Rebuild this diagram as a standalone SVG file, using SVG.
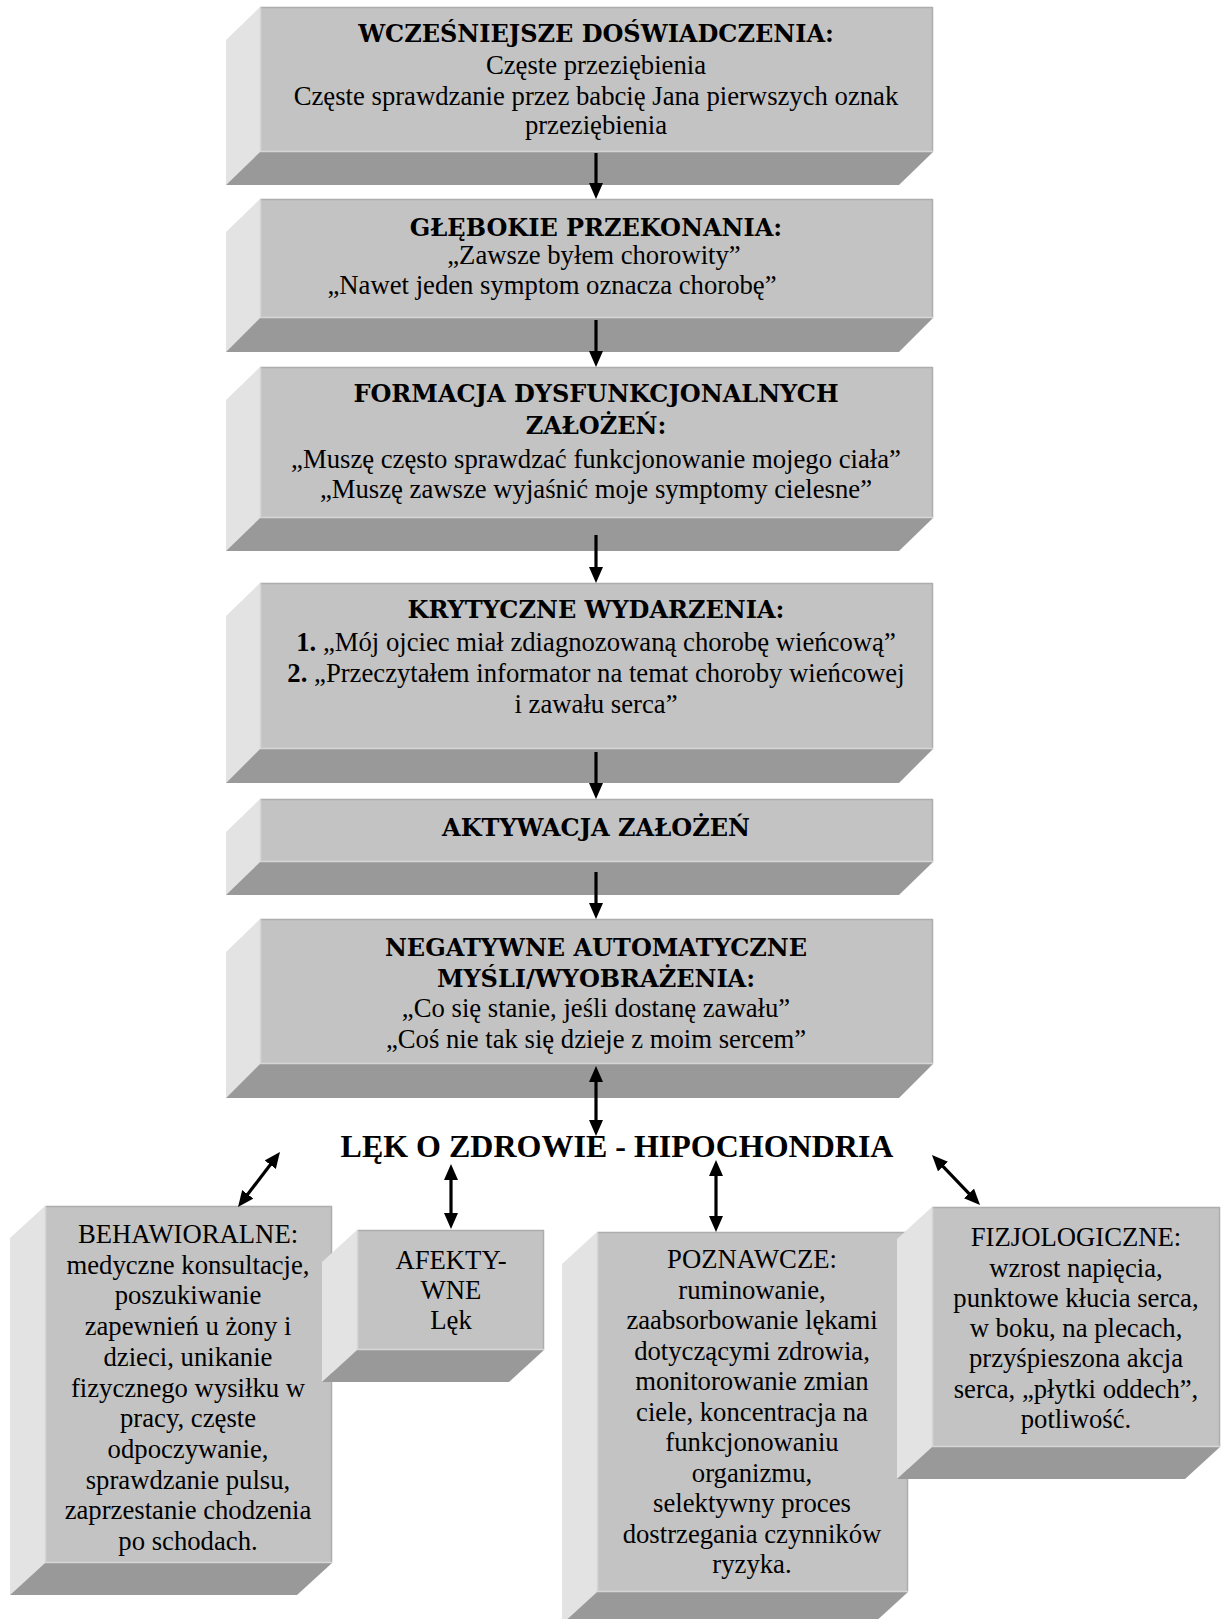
<svg xmlns="http://www.w3.org/2000/svg" width="1226" height="1619" viewBox="0 0 1226 1619">
<defs>
<style>
.front{fill:#c3c3c3}
.side{fill:#e3e3e3}
.bottom{fill:#999999}
.edge{stroke:#adadad;stroke-width:1.5;fill:none}
.hl{stroke:#d6d6d6;stroke-width:1.5;fill:none}
.ttl{font-family:"DejaVu Serif","Liberation Serif",serif;font-weight:bold;font-size:24px;fill:#000;text-anchor:middle}
.txt{font-family:"Liberation Serif","Times New Roman",serif;font-size:26.7px;fill:#000;text-anchor:middle}
.big{font-family:"Liberation Serif","Times New Roman",serif;font-weight:bold;font-size:32px;fill:#000;text-anchor:middle}
.arr{stroke:#000;stroke-width:3.2;fill:none}
</style>
<marker id="ah" markerUnits="userSpaceOnUse" markerWidth="16" markerHeight="14" refX="6" refY="7" orient="auto-start-reverse" viewBox="0 0 16 14">
<path d="M0,0 L16,7 L0,14 Z" fill="#000"/>
</marker>
</defs>
<rect width="1226" height="1619" fill="#fff"/>

<g id="box1">
<polygon class="side" points="260,7 226,40 226,185 260,152"/>
<polygon class="bottom" points="260,152 933,152 899,185 226,185"/>
<rect class="front" x="260" y="7" width="673" height="145"/>
<path class="edge" d="M260,7.5 H933 M932.5,7 V152"/>
<path class="hl" d="M260.5,7 V152 M260,151.5 H933"/>
<text class="ttl" x="596" y="42">WCZEŚNIEJSZE DOŚWIADCZENIA:</text>
<text class="txt" x="596" y="74">Częste przeziębienia</text>
<text class="txt" x="596" y="105">Częste sprawdzanie przez babcię Jana pierwszych oznak</text>
<text class="txt" x="596" y="134">przeziębienia</text>
</g>

<g id="box2">
<polygon class="side" points="260,199 226,232 226,352 260,318"/>
<polygon class="bottom" points="260,318 933,318 899,352 226,352"/>
<rect class="front" x="260" y="199" width="673" height="119"/>
<path class="edge" d="M260,199.5 H933 M932.5,199 V318"/>
<path class="hl" d="M260.5,199 V318 M260,317.5 H933"/>
<text class="ttl" x="596" y="236">GŁĘBOKIE PRZEKONANIA:</text>
<text class="txt" x="594" y="264">„Zawsze byłem chorowity”</text>
<text class="txt" x="552" y="294">„Nawet jeden symptom oznacza chorobę”</text>
</g>

<g id="box3">
<polygon class="side" points="260,367 226,400 226,551 260,518"/>
<polygon class="bottom" points="260,518 933,518 899,551 226,551"/>
<rect class="front" x="260" y="367" width="673" height="151"/>
<path class="edge" d="M260,367.5 H933 M932.5,367 V518"/>
<path class="hl" d="M260.5,367 V518 M260,517.5 H933"/>
<text class="ttl" x="596" y="402">FORMACJA DYSFUNKCJONALNYCH</text>
<text class="ttl" x="596" y="434">ZAŁOŻEŃ:</text>
<text class="txt" x="596" y="468">„Muszę często sprawdzać funkcjonowanie mojego ciała”</text>
<text class="txt" x="596" y="498">„Muszę zawsze wyjaśnić moje symptomy cielesne”</text>
</g>

<g id="box4">
<polygon class="side" points="260,583 226,616 226,783 260,749"/>
<polygon class="bottom" points="260,749 933,749 899,783 226,783"/>
<rect class="front" x="260" y="583" width="673" height="166"/>
<path class="edge" d="M260,583.5 H933 M932.5,583 V749"/>
<path class="hl" d="M260.5,583 V749 M260,748.5 H933"/>
<text class="ttl" x="596" y="618">KRYTYCZNE WYDARZENIA:</text>
<text class="txt" x="596" y="651"><tspan font-weight="bold">1.</tspan> „Mój ojciec miał zdiagnozowaną chorobę wieńcową”</text>
<text class="txt" x="596" y="682"><tspan font-weight="bold">2.</tspan> „Przeczytałem informator na temat choroby wieńcowej</text>
<text class="txt" x="596" y="713">i zawału serca”</text>
</g>

<g id="box5">
<polygon class="side" points="260,799 226,832 226,895 260,862"/>
<polygon class="bottom" points="260,862 933,862 899,895 226,895"/>
<rect class="front" x="260" y="799" width="673" height="63"/>
<path class="edge" d="M260,799.5 H933 M932.5,799 V862"/>
<path class="hl" d="M260.5,799 V862 M260,861.5 H933"/>
<text class="ttl" x="596" y="836">AKTYWACJA ZAŁOŻEŃ</text>
</g>

<g id="box6">
<polygon class="side" points="260,919 226,952 226,1098 260,1064"/>
<polygon class="bottom" points="260,1064 933,1064 899,1098 226,1098"/>
<rect class="front" x="260" y="919" width="673" height="145"/>
<path class="edge" d="M260,919.5 H933 M932.5,919 V1064"/>
<path class="hl" d="M260.5,919 V1064 M260,1063.5 H933"/>
<text class="ttl" x="596" y="956">NEGATYWNE AUTOMATYCZNE</text>
<text class="ttl" x="596" y="987">MYŚLI/WYOBRAŻENIA:</text>
<text class="txt" x="596" y="1017">„Co się stanie, jeśli dostanę zawału”</text>
<text class="txt" x="596" y="1048">„Coś nie tak się dzieje z moim sercem”</text>
</g>

<g id="title">
<text class="big" x="617" y="1157">LĘK O ZDROWIE - HIPOCHONDRIA</text>
</g>

<g id="behawioralne">
<polygon class="side" points="45,1206 10,1238 10,1595 45,1563"/>
<polygon class="bottom" points="45,1563 332,1563 297,1595 10,1595"/>
<rect class="front" x="45" y="1206" width="287" height="357"/>
<path class="edge" d="M45,1206.5 H332 M331.5,1206 V1563"/>
<path class="hl" d="M45.5,1206 V1563 M45,1562.5 H332"/>
<text class="txt" x="188" y="1243">BEHAWIORALNE:</text>
<text class="txt" x="188" y="1273.7">medyczne konsultacje,</text>
<text class="txt" x="188" y="1304.4">poszukiwanie</text>
<text class="txt" x="188" y="1335.1">zapewnień u żony i</text>
<text class="txt" x="188" y="1365.8">dzieci, unikanie</text>
<text class="txt" x="188" y="1396.5">fizycznego wysiłku w</text>
<text class="txt" x="188" y="1427.2">pracy, częste</text>
<text class="txt" x="188" y="1457.9">odpoczywanie,</text>
<text class="txt" x="188" y="1488.6">sprawdzanie pulsu,</text>
<text class="txt" x="188" y="1519.3">zaprzestanie chodzenia</text>
<text class="txt" x="188" y="1550">po schodach.</text>
</g>

<g id="afektywne">
<polygon class="side" points="357,1230 322,1262 322,1382 357,1350"/>
<polygon class="bottom" points="357,1350 544,1350 509,1382 322,1382"/>
<rect class="front" x="357" y="1230" width="187" height="120"/>
<path class="edge" d="M357,1230.5 H544 M543.5,1230 V1350"/>
<path class="hl" d="M357.5,1230 V1350 M357,1349.5 H544"/>
<text class="txt" x="451" y="1269">AFEKTY-</text>
<text class="txt" x="451" y="1299">WNE</text>
<text class="txt" x="451" y="1329">Lęk</text>
</g>

<g id="poznawcze">
<polygon class="side" points="597,1232 562,1264 562,1624 597,1592"/>
<polygon class="bottom" points="597,1592 908,1592 873,1624 562,1624"/>
<rect class="front" x="597" y="1232" width="311" height="360"/>
<path class="edge" d="M597,1232.5 H908 M907.5,1232 V1592"/>
<path class="hl" d="M597.5,1232 V1592 M597,1591.5 H908"/>
<text class="txt" x="752" y="1268">POZNAWCZE:</text>
<text class="txt" x="752" y="1298.5">ruminowanie,</text>
<text class="txt" x="752" y="1329">zaabsorbowanie lękami</text>
<text class="txt" x="752" y="1359.5">dotyczącymi zdrowia,</text>
<text class="txt" x="752" y="1390">monitorowanie zmian</text>
<text class="txt" x="752" y="1420.5">ciele, koncentracja na</text>
<text class="txt" x="752" y="1451">funkcjonowaniu</text>
<text class="txt" x="752" y="1481.5">organizmu,</text>
<text class="txt" x="752" y="1512">selektywny proces</text>
<text class="txt" x="752" y="1542.5">dostrzegania czynników</text>
<text class="txt" x="752" y="1573">ryzyka.</text>
</g>

<g id="fizjologiczne">
<polygon class="side" points="932,1207 897,1239 897,1479 932,1447"/>
<polygon class="bottom" points="932,1447 1220,1447 1185,1479 897,1479"/>
<rect class="front" x="932" y="1207" width="288" height="240"/>
<path class="edge" d="M932,1207.5 H1220 M1219.5,1207 V1447"/>
<path class="hl" d="M932.5,1207 V1447 M932,1446.5 H1220"/>
<text class="txt" x="1076" y="1246">FIZJOLOGICZNE:</text>
<text class="txt" x="1076" y="1277">wzrost napięcia,</text>
<text class="txt" x="1076" y="1307">punktowe kłucia serca,</text>
<text class="txt" x="1076" y="1337">w boku, na plecach,</text>
<text class="txt" x="1076" y="1367">przyśpieszona akcja</text>
<text class="txt" x="1076" y="1398">serca, „płytki oddech”,</text>
<text class="txt" x="1076" y="1428">potliwość.</text>
</g>

<g id="connectors">
<line class="arr" x1="596" y1="153" x2="596" y2="189" marker-end="url(#ah)"/>
<line class="arr" x1="596" y1="320" x2="596" y2="357" marker-end="url(#ah)"/>
<line class="arr" x1="596" y1="535" x2="596" y2="573" marker-end="url(#ah)"/>
<line class="arr" x1="596" y1="752" x2="596" y2="789" marker-end="url(#ah)"/>
<line class="arr" x1="596" y1="872" x2="596" y2="909" marker-end="url(#ah)"/>
<line class="arr" x1="596" y1="1076" x2="596" y2="1126" marker-start="url(#ah)" marker-end="url(#ah)"/>
<line class="arr" x1="273.9" y1="1160" x2="244.1" y2="1199" marker-start="url(#ah)" marker-end="url(#ah)"/>
<line class="arr" x1="451" y1="1174" x2="451" y2="1219" marker-start="url(#ah)" marker-end="url(#ah)"/>
<line class="arr" x1="716" y1="1170" x2="716" y2="1222" marker-start="url(#ah)" marker-end="url(#ah)"/>
<line class="arr" x1="938.9" y1="1162.2" x2="973.1" y2="1197.8" marker-start="url(#ah)" marker-end="url(#ah)"/>
</g>
</svg>
